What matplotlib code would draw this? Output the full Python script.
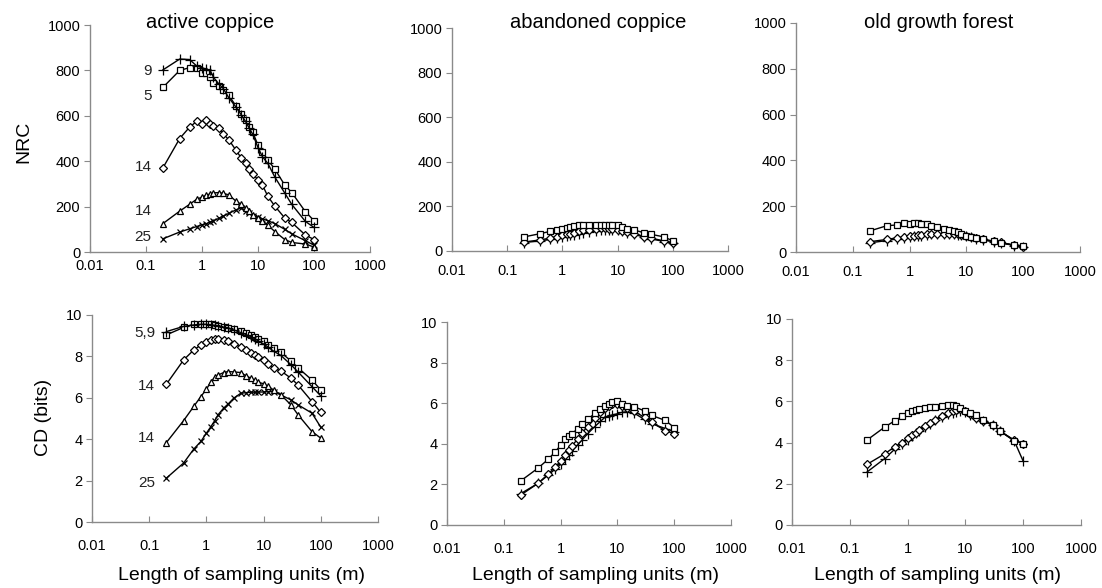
import matplotlib
matplotlib.use("Agg")
import matplotlib.pyplot as plt
from matplotlib.ticker import FixedLocator, NullLocator

plt.rcParams['font.family'] = ['Liberation Sans', 'DejaVu Sans']

# ---------------- data ----------------
x_len = [0.2, 0.4, 0.6, 0.8, 1.0, 1.2, 1.4, 1.6, 2.0, 2.4, 3.0, 4.0,
         5.0, 6.0, 7.0, 8.0, 10, 12, 15, 20, 30, 40, 70, 100]

# active coppice, NRC
act_nrc_5 = [725, 800, 812, 812, 790, 790, 770, 745, 730, 715, 690, 645,
             610, 580, 550, 530, 470, 440, 405, 365, 295, 262, 178, 138]
act_nrc_9 = [802, 850, 848, 820, 812, 805, 800, 770, 740, 720, 680, 640,
             605, 575, 545, 520, 460, 420, 390, 330, 260, 210, 135, 108]
act_nrc_14a = [370, 500, 550, 575, 565, 580, 565, 555, 545, 520, 495, 450,
               415, 390, 365, 345, 318, 295, 245, 202, 150, 130, 75, 55]
act_nrc_14b = [125, 180, 210, 232, 242, 250, 256, 260, 262, 258, 252, 225,
               210, 195, 180, 165, 150, 135, 118, 90, 55, 42, 35, 22]
act_nrc_25 = [58, 88, 102, 112, 120, 125, 132, 138, 148, 158, 170, 185,
              195, 180, 170, 160, 152, 146, 138, 125, 100, 80, 50, 30]

# active coppice, CD
act_cd_5 = [9.04, 9.40, 9.55, 9.57, 9.57, 9.55, 9.52, 9.48, 9.42, 9.38, 9.33, 9.22,
            9.12, 9.05, 8.95, 8.85, 8.72, 8.55, 8.40, 8.20, 7.78, 7.45, 6.86, 6.38]
act_cd_9 = [9.20, 9.45, 9.52, 9.55, 9.55, 9.52, 9.50, 9.45, 9.40, 9.35, 9.28, 9.15,
            9.05, 8.95, 8.85, 8.75, 8.60, 8.45, 8.25, 8.05, 7.60, 7.25, 6.54, 6.09]
act_cd_14a = [6.66, 7.83, 8.31, 8.55, 8.71, 8.79, 8.83, 8.83, 8.78, 8.72, 8.62, 8.45,
              8.30, 8.18, 8.05, 7.95, 7.83, 7.62, 7.42, 7.30, 6.95, 6.62, 5.82, 5.29]
act_cd_14b = [3.84, 4.90, 5.58, 6.06, 6.41, 6.78, 6.99, 7.10, 7.22, 7.27, 7.25, 7.22,
              7.05, 6.95, 6.85, 6.75, 6.68, 6.55, 6.38, 6.15, 5.66, 5.18, 4.37, 4.05]
act_cd_25 = [2.12, 2.85, 3.52, 3.89, 4.29, 4.61, 4.90, 5.18, 5.50, 5.70, 5.98, 6.22,
             6.25, 6.27, 6.27, 6.28, 6.28, 6.30, 6.30, 6.14, 5.90, 5.66, 5.26, 4.58]

# abandoned coppice, NRC
ab_nrc_sq = [63, 78, 88, 92, 97, 102, 106, 110, 115, 117, 118, 118,
             118, 118, 118, 118, 118, 108, 100, 94, 82, 75, 63, 45]
ab_nrc_di = [40, 50, 58, 65, 70, 74, 78, 82, 88, 92, 96, 100,
             102, 102, 100, 98, 95, 90, 85, 78, 65, 58, 45, 38]
ab_nrc_pl = [38, 45, 52, 58, 62, 66, 70, 73, 78, 82, 86, 90,
             93, 95, 96, 96, 92, 88, 82, 75, 62, 55, 42, 35]

# abandoned coppice, CD
ab_cd_sq = [2.18, 2.80, 3.23, 3.60, 3.93, 4.26, 4.38, 4.50, 4.75, 4.98, 5.20, 5.50,
            5.72, 5.85, 5.95, 6.05, 6.12, 5.95, 5.88, 5.82, 5.62, 5.40, 5.15, 4.80]
ab_cd_di = [1.48, 2.05, 2.50, 2.85, 3.15, 3.45, 3.70, 3.90, 4.25, 4.55, 4.85, 5.25,
            5.55, 5.75, 5.85, 5.95, 5.95, 5.85, 5.75, 5.60, 5.30, 5.05, 4.65, 4.50]
ab_cd_pl = [1.55, 2.05, 2.45, 2.75, 3.00, 3.25, 3.45, 3.65, 3.95, 4.20, 4.50, 4.85,
            5.10, 5.30, 5.38, 5.42, 5.48, 5.55, 5.58, 5.50, 5.20, 5.00, 4.75, 4.60]

# old growth forest, NRC
og_nrc_sq = [92, 115, 118, 128, 124, 125, 127, 124, 122, 115, 108, 100,
             96, 92, 88, 80, 72, 66, 62, 55, 46, 40, 30, 28]
og_nrc_di = [45, 55, 62, 66, 70, 72, 74, 76, 78, 79, 80, 80,
             80, 79, 77, 75, 70, 66, 60, 55, 48, 42, 30, 22]
og_nrc_pl = [40, 50, 58, 62, 66, 68, 70, 72, 75, 77, 78, 78,
             78, 77, 76, 74, 68, 64, 58, 52, 45, 40, 28, 20]

# old growth forest, CD
og_cd_sq = [4.13, 4.75, 5.06, 5.27, 5.43, 5.52, 5.58, 5.62, 5.70, 5.73, 5.75, 5.80,
            5.83, 5.82, 5.78, 5.70, 5.55, 5.45, 5.32, 5.10, 4.86, 4.56, 4.10, 3.95]
og_cd_di = [2.95, 3.45, 3.80, 4.00, 4.20, 4.35, 4.48, 4.60, 4.80, 4.95, 5.12, 5.30,
            5.42, 5.52, 5.58, 5.62, 5.55, 5.40, 5.20, 5.05, 4.85, 4.55, 4.12, 3.95]
og_cd_pl = [2.58, 3.22, 3.68, 3.95, 4.15, 4.30, 4.45, 4.55, 4.75, 4.90, 5.08, 5.25,
            5.38, 5.45, 5.50, 5.55, 5.50, 5.35, 5.20, 5.05, 4.85, 4.55, 4.08, 3.10]

x_ticks = [0.01, 0.1, 1, 10, 100, 1000]
x_tick_labels = ['0.01', '0.1', '1', '10', '100', '1000']
nrc_ticks = [0, 200, 400, 600, 800, 1000]
cd_ticks = [0, 2, 4, 6, 8, 10]

titles = ['active coppice', 'abandoned coppice', 'old growth forest']

act_nrc_labels = ['9', '5', '14', '14', '25']
act_nrc_label_y = [797, 687, 374, 180, 66]
act_cd_labels = ['5,9', '14', '14', '25']
act_cd_label_y = [9.13, 6.57, 4.06, 1.88]

# ---------------- figure ----------------
W, H = 1102, 588
fig = plt.figure(figsize=(W / 100, H / 100), dpi=100)

def rect(x0, x1, ybot, ytop):
    return [x0 / W, 1 - ybot / H, (x1 - x0) / W, (ybot - ytop) / H]

axes_rects = {
    'TL': rect(90, 370, 252, 25),
    'TM': rect(452, 728, 251, 28),
    'TR': rect(796, 1080, 252, 23),
    'BL': rect(92, 378, 522, 315),
    'BM': rect(447, 731, 525, 322),
    'BR': rect(792, 1081, 525, 319),
}
xpads = {'TL': 5.0, 'TM': 9.5, 'TR': 9.5, 'BL': 12.5, 'BM': 12.5, 'BR': 12.5}

gray = '#8a8a8a'
mk = dict(color='black', lw=1.0, mec='black', mfc='white', mew=0.9)

def style(ax, key, yticks):
    ax.set_xscale('log')
    ax.set_xlim(0.01, 1000)
    ax.set_ylim(yticks[0], yticks[-1])
    ax.xaxis.set_major_locator(FixedLocator(x_ticks))
    ax.set_xticklabels(x_tick_labels)
    ax.xaxis.set_minor_locator(NullLocator())
    ax.set_yticks(yticks)
    for s in ['top', 'right']:
        ax.spines[s].set_visible(False)
    for s in ['left', 'bottom']:
        ax.spines[s].set_color(gray)
        ax.spines[s].set_linewidth(1.0)
    ax.tick_params(axis='x', direction='in', length=4, color=gray,
                   labelsize=10.5, pad=xpads[key])
    ax.tick_params(axis='y', direction='out', length=4, color=gray,
                   labelsize=10.5, pad=3)
    ax.patch.set_alpha(0)

def series(ax, y, marker, ms):
    ax.plot(x_len, y, marker=marker, ms=ms, clip_on=False, **mk)

# active coppice NRC
ax = fig.add_axes(axes_rects['TL'])
style(ax, 'TL', nrc_ticks)
series(ax, act_nrc_25, 'x', 4.8)
series(ax, act_nrc_14b, '^', 4.8)
series(ax, act_nrc_14a, 'D', 3.8)
series(ax, act_nrc_5, 's', 4.8)
series(ax, act_nrc_9, '+', 6.5)
for lab, yv in zip(act_nrc_labels, act_nrc_label_y):
    ax.annotate(lab, xy=(x_len[0], yv), xytext=(-8, 0), textcoords='offset points',
                ha='right', va='center', fontsize=11, color='#222222')

# abandoned NRC
ax = fig.add_axes(axes_rects['TM'])
style(ax, 'TM', nrc_ticks)
series(ax, ab_nrc_pl, '+', 6.5)
series(ax, ab_nrc_di, 'D', 3.8)
series(ax, ab_nrc_sq, 's', 4.8)

# old growth NRC
ax = fig.add_axes(axes_rects['TR'])
style(ax, 'TR', nrc_ticks)
series(ax, og_nrc_pl, '+', 6.5)
series(ax, og_nrc_di, 'D', 3.8)
series(ax, og_nrc_sq, 's', 4.8)

# active CD
ax = fig.add_axes(axes_rects['BL'])
style(ax, 'BL', cd_ticks)
series(ax, act_cd_25, 'x', 4.8)
series(ax, act_cd_14b, '^', 4.8)
series(ax, act_cd_14a, 'D', 3.8)
series(ax, act_cd_5, 's', 4.8)
series(ax, act_cd_9, '+', 6.5)
for lab, yv in zip(act_cd_labels, act_cd_label_y):
    ax.annotate(lab, xy=(x_len[0], yv), xytext=(-8, 0), textcoords='offset points',
                ha='right', va='center', fontsize=11, color='#222222')

# abandoned CD
ax = fig.add_axes(axes_rects['BM'])
style(ax, 'BM', cd_ticks)
series(ax, ab_cd_pl, '+', 6.5)
series(ax, ab_cd_di, 'D', 3.8)
series(ax, ab_cd_sq, 's', 4.8)

# old growth CD
ax = fig.add_axes(axes_rects['BR'])
style(ax, 'BR', cd_ticks)
series(ax, og_cd_pl, '+', 6.5)
series(ax, og_cd_di, 'D', 3.8)
series(ax, og_cd_sq, 's', 4.8)

# titles
for t, xc in zip(titles, [210, 598, 939]):
    fig.text(xc / W, 1 - 22 / H, t, ha='center', va='center', fontsize=14.5)

# axis labels
fig.text(24 / W, 1 - 142 / H, 'NRC', rotation=90, ha='center', va='center', fontsize=14)
fig.text(43 / W, 1 - 417 / H, 'CD (bits)', rotation=90, ha='center', va='center', fontsize=14)
for xc in [241, 595, 937]:
    fig.text(xc / W, 1 - 575 / H, 'Length of sampling units (m)',
             ha='center', va='center', fontsize=14)

fig.savefig('out.png', dpi=100)
